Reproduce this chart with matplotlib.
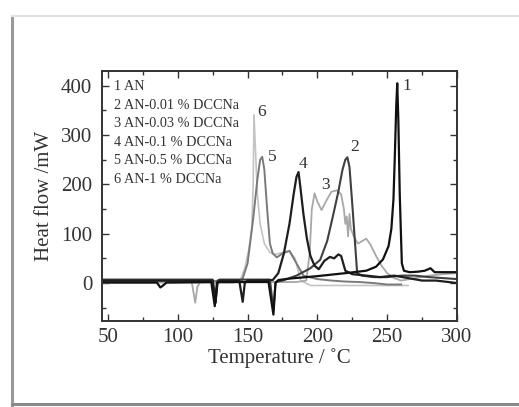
import matplotlib
matplotlib.use('Agg')
import matplotlib.pyplot as plt
from matplotlib.lines import Line2D
from matplotlib.ticker import MultipleLocator

plt.rcParams['font.family'] = ['Liberation Serif', 'DejaVu Serif']

# DSC curves (temperature / degC, heat flow / mW)
t1 = [46, 85, 87.5, 89, 92, 124, 126.5, 128, 130, 165, 168.5, 170, 172, 180, 200, 220,
      235, 242, 247, 251, 253, 254.5, 255.5, 256.5, 257.2, 258, 259, 260.5, 262, 266,
      272, 277, 281, 284, 290, 300]
q1 = [1, 1, -9, -6, 1, 2, -47, 0, 2, 2, -64, 0, 6, 9, 14, 20,
      25, 33, 48, 75, 110, 170, 260, 360, 405, 330, 180, 40, 25, 22,
      23, 25, 30, 22, 22, 22]

t2 = [46, 125, 127, 128.5, 130, 166, 168.5, 170, 175, 185, 195, 202, 207, 211, 215,
      218, 220, 221.5, 223, 225, 227, 228.5, 232, 240, 250, 260, 270, 280, 290, 300]
q2 = [7, 7, -40, 5, 7, 7, -55, 2, 5, 15, 30, 47, 85, 134, 185,
      230, 250, 255, 235, 160, 80, 20, 15, 12, 12, 15, 15, 12, 10, 8]

t3 = [46, 110, 112.5, 114, 116, 185, 192, 194.5, 196, 198, 200, 203, 206, 210, 214,
      217, 219, 220, 221, 222, 223, 224, 226, 229, 232, 235, 238, 242, 246, 250, 255,
      260, 270, 280, 290, 300]
q3 = [2, 2, -40, -8, 2, 2, 5, 60, 150, 182, 165, 148, 165, 185, 188,
      180, 150, 120, 135, 95, 140, 110, 95, 80, 85, 90, 78, 55, 35, 20, 10,
      5, 10, 15, 18, 20]

t4 = [46, 125, 127, 128.5, 130, 144, 146.5, 148, 150, 168, 172, 176, 180, 183, 185,
      186.5, 188, 190, 192.5, 195, 198, 201, 205, 209, 212, 215, 217, 220, 225, 235,
      245, 255, 265, 275, 285, 300]
q4 = [5, 5, -40, 2, 5, 5, -38, 0, 5, 6, 20, 60, 120, 180, 215,
      225, 190, 140, 90, 55, 35, 28, 45, 53, 50, 58, 55, 25, 18, 15,
      12, 15, 10, 5, 5, 0]

t5 = [46, 140, 146, 150, 154, 157, 159, 160.5, 162, 164, 166, 168, 171, 175, 180,
      185, 190, 200, 210, 220, 230, 240, 250, 260]
q5 = [4, 4, 5, 40, 130, 210, 250, 256, 230, 150, 80, 60, 52, 60, 65,
      40, 15, 8, 5, 3, 2, 0, -3, -3]

t6 = [46, 140, 145, 148, 151, 153, 154, 154.6, 155.5, 157, 159, 162, 166, 170, 175,
      180, 184, 188, 195, 220, 245, 265]
q6 = [0, 0, 8, 30, 70, 110, 200, 341, 280, 180, 120, 80, 62, 58, 62,
      66, 50, 5, -5, -5, -5, -5]

curves = [(t1, q1), (t2, q2), (t3, q3), (t4, q4), (t5, q5), (t6, q6)]
colors = ['#111111', '#404040', '#a8a8a8', '#1e1e1e', '#7a7a7a', '#c4c4c4']
widths = [1.6, 1.5, 1.3, 1.6, 1.4, 1.2]

legend_lines = ['1 AN', '2 AN-0.01 % DCCNa', '3 AN-0.03 % DCCNa',
                '4 AN-0.1 % DCCNa', '5 AN-0.5 % DCCNa', '6 AN-1 % DCCNa']
legend_y = [398, 359, 323, 284, 248, 209]

peak_names = ['1', '2', '3', '4', '5', '6']
peak_x = [264, 227, 205.5, 190, 168, 160]
peak_y = [400, 276, 199, 241, 256, 347]

fig = plt.figure(figsize=(5.19, 4.07), dpi=100)
ax = fig.add_axes([0.1965, 0.2113, 0.684, 0.6143])

# draw light curves first so the dark ones sit on top
order = [5, 2, 4, 1, 3, 0]
for i in order:
    t, q = curves[i]
    ax.plot(t, q, color=colors[i], lw=widths[i])

ax.set_xlim(45.7, 300)
ax.set_ylim(-77, 430)
ax.xaxis.set_major_locator(MultipleLocator(50))
ax.xaxis.set_minor_locator(MultipleLocator(25))
ax.yaxis.set_major_locator(MultipleLocator(100))
ax.yaxis.set_minor_locator(MultipleLocator(50))
ax.tick_params(which='both', direction='in', top=True, right=True,
               colors='#333333', labelsize=15)
ax.tick_params(which='major', length=5, width=1.0)
ax.tick_params(which='minor', length=3, width=1.0)
ax.tick_params(axis='y', pad=7)
ax.tick_params(axis='x', pad=5)
for s in ax.spines.values():
    s.set_linewidth(1.4)
    s.set_color('#333333')

ax.set_xlabel('Temperature / \u02daC', fontsize=15, color='#333333', labelpad=0.5)
ax.set_ylabel('Heat flow /mW', fontsize=15, color='#333333', labelpad=5)

for txt, yy in zip(legend_lines, legend_y):
    ax.text(54.3, yy, txt, fontsize=10.3, color='#333333', va='center', ha='left')

for name, xx, yy in zip(peak_names, peak_x, peak_y):
    ax.text(xx, yy, name, fontsize=12.5, color='#333333', va='center', ha='center')

# photo frame around the figure
fig.add_artist(Line2D([0.024, 0.024], [0.005, 0.961], color='#9a9a9a', lw=2.2))
fig.add_artist(Line2D([0.024, 1.0], [0.961, 0.961], color='#e2e2e2', lw=1.5))
fig.add_artist(Line2D([0.024, 1.0], [0.007, 0.007], color='#8a8a8a', lw=2.2))

fig.savefig('out.png', dpi=100)
